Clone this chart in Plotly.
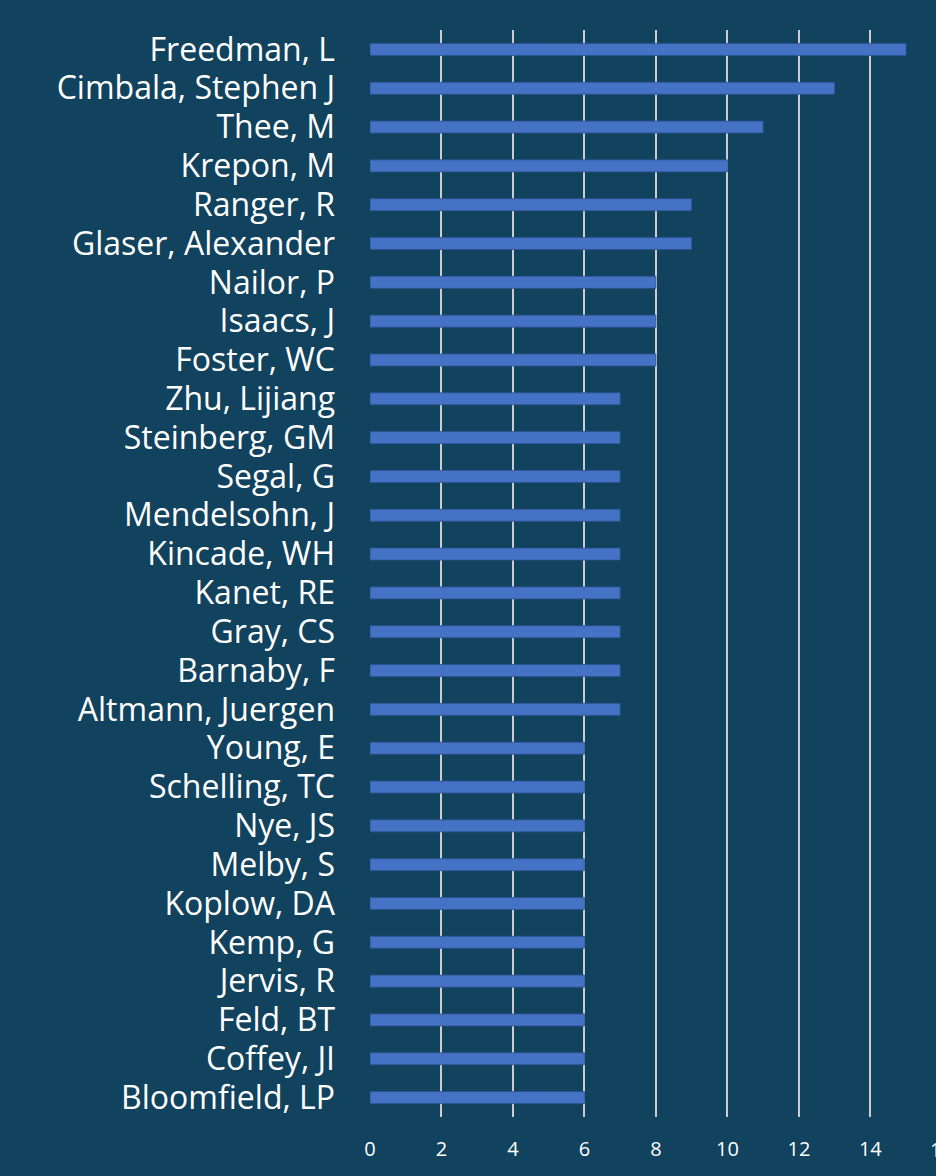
import plotly.graph_objects as go

authors = ["Freedman, L", "Cimbala, Stephen J", "Thee, M", "Krepon, M", "Ranger, R",
           "Glaser, Alexander", "Nailor, P", "Isaacs, J", "Foster, WC", "Zhu, Lijiang",
           "Steinberg, GM", "Segal, G", "Mendelsohn, J", "Kincade, WH", "Kanet, RE",
           "Gray, CS", "Barnaby, F", "Altmann, Juergen", "Young, E", "Schelling, TC",
           "Nye, JS", "Melby, S", "Koplow, DA", "Kemp, G", "Jervis, R", "Feld, BT",
           "Coffey, JI", "Bloomfield, LP"]
counts = [15, 13, 11, 10, 9, 9, 8, 8, 8, 7, 7, 7, 7, 7, 7, 7, 7, 7,
          6, 6, 6, 6, 6, 6, 6, 6, 6, 6]
tick_values = [0, 2, 4, 6, 8, 10, 12, 14, 16]

BG = "#11425E"
FONT = "Open Sans, Noto Sans, sans-serif"
W, H = 936, 1176
ml, mr, mt, mb = 370, 0, 30, 59
px_per_unit = 35.74
xmax = (W - ml - mr) / px_per_unit

fig = go.Figure(go.Bar(
    x=counts, y=authors, orientation="h",
    marker=dict(color="#4472C4", line=dict(color="#2F528F", width=0.8)),
))

fig.update_layout(
    width=W, height=H,
    margin=dict(l=ml, r=mr, t=mt, b=mb, autoexpand=False),
    paper_bgcolor=BG, plot_bgcolor=BG,
    bargap=0.69,
    showlegend=False,
    font=dict(family=FONT, color="white"),
)
fig.update_xaxes(
    range=[0, xmax], tickvals=tick_values, showgrid=True,
    gridcolor="#CCCCCC", gridwidth=1.5, zeroline=False, showline=False,
    tickfont=dict(size=20, color="white", family=FONT), ticks="", ticklabelstandoff=18,
)
fig.update_yaxes(
    categoryorder="array", categoryarray=authors, autorange="reversed",
    tickfont=dict(size=32, color="white", family=FONT), ticks="", showgrid=False,
    showline=False, zeroline=False, ticklabelstandoff=34,
)
# partially visible last tick label (cut off at the right edge, as in the original)
last = tick_values[-1]
fig.add_annotation(x=last / xmax, xref="paper", y=0, yref="paper", yshift=-32,
                   text=str(last), showarrow=False, xanchor="center", yanchor="middle",
                   font=dict(size=20, color="white", family=FONT))

fig.write_html("out.html", config={"displayModeBar": False},
               post_script="document.body.style.margin='0';"
                           "document.body.style.background='" + BG + "';")
